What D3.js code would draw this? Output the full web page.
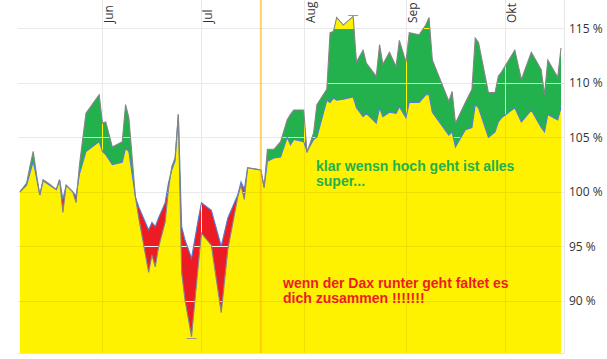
<!DOCTYPE html>
<html><head><meta charset="utf-8">
<script src="https://cdn.jsdelivr.net/npm/d3@7"></script>
<style>html,body{margin:0;padding:0;background:#fff;} svg{display:block}</style>
</head><body>
<svg id="c" width="607" height="359"></svg>
<script>
// ---------- data ----------
const dates = ["2009-05-07","2009-05-09","2009-05-10","2009-05-11","2009-05-12","2009-05-13","2009-05-14","2009-05-16","2009-05-18","2009-05-19",
"2009-05-20","2009-05-21","2009-05-23","2009-05-24","2009-05-25","2009-05-27","2009-05-31","2009-06-01","2009-06-02","2009-06-04",
"2009-06-07","2009-06-08","2009-06-09","2009-06-11","2009-06-12","2009-06-15","2009-06-16","2009-06-17","2009-06-18","2009-06-20",
"2009-06-21","2009-06-22","2009-06-23","2009-06-24","2009-06-25","2009-06-26","2009-06-28","2009-06-30","2009-07-01","2009-07-04",
"2009-07-07","2009-07-09","2009-07-12","2009-07-13","2009-07-14","2009-07-15","2009-07-19","2009-07-20","2009-07-21","2009-07-23",
"2009-07-25","2009-07-27","2009-07-28","2009-07-29","2009-08-01","2009-08-02","2009-08-04","2009-08-05","2009-08-08","2009-08-09",
"2009-08-10","2009-08-11","2009-08-13","2009-08-16","2009-08-17","2009-08-19","2009-08-20","2009-08-23","2009-08-24","2009-08-25",
"2009-08-27","2009-08-29","2009-08-30","2009-09-01","2009-09-02","2009-09-05","2009-09-07","2009-09-08","2009-09-09","2009-09-14",
"2009-09-15","2009-09-16","2009-09-19","2009-09-21","2009-09-22","2009-09-23","2009-09-26","2009-09-28","2009-09-29","2009-09-30",
"2009-10-04","2009-10-06","2009-10-09","2009-10-12","2009-10-13","2009-10-14","2009-10-17","2009-10-18"];

const productValues = [100.0,100.8,102.3,103.7,101.6,99.7,101.1,100.7,100.2,101.1,
98.1,100.6,100.0,99.0,102.4,107.2,108.9,106.3,106.4,104.1,
104.6,108.0,106.8,99.5,97.6,92.6,94.2,93.1,94.9,97.2,
100.2,102.3,103.1,107.1,92.6,90.1,86.7,93.1,96.2,95.1,
88.9,94.7,99.5,100.6,99.3,102.2,102.0,100.4,103.9,103.9,
104.6,106.6,107.1,107.5,107.5,103.6,105.4,108.0,109.4,114.6,
114.7,116.0,115.3,116.1,111.9,113.0,111.8,110.6,113.5,111.7,
112.8,111.5,113.9,111.9,114.6,114.4,115.3,116.0,112.1,108.3,
109.2,106.3,108.2,109.4,114.1,113.7,109.1,109.1,110.6,111.0,
113.0,110.3,112.8,111.2,108.9,112.1,110.5,113.2];

const daxValues = [100.0,100.6,101.7,102.8,101.3,99.7,101.0,100.6,100.2,101.1,
99.3,100.6,100.0,99.6,101.6,103.7,104.6,103.7,103.4,102.5,
102.7,104.0,103.7,99.5,98.6,96.5,97.2,96.8,97.6,99.0,
100.8,102.0,102.8,107.1,96.8,95.6,93.9,97.4,99.0,98.3,
95.0,97.6,99.7,100.9,100.2,102.2,102.0,100.4,102.8,103.1,
103.2,105.0,104.3,104.8,104.6,103.7,104.8,105.0,108.4,108.2,
108.6,108.4,108.5,108.7,107.7,106.9,107.2,106.3,107.7,106.9,
107.3,107.2,107.8,106.8,108.2,108.2,108.9,108.9,107.3,105.2,
105.5,104.1,105.7,105.9,108.0,107.7,105.0,105.5,106.4,106.8,
107.7,106.4,107.5,105.9,105.5,107.1,106.6,107.7];

const yTicks = [90, 95, 100, 105, 110, 115];
const yTickLabels = ["90 %", "95 %", "100 %", "105 %", "110 %", "115 %"];
const monthTicks = ["2009-06-01","2009-07-01","2009-08-01","2009-09-01","2009-10-01"];
const monthLabels = ["Jun","Jul","Aug","Sep","Okt"];
const markerDate = "2009-07-19";
const dateDomain = ["2009-05-07","2009-10-18"];
const valueDomain = [85.2, 117.6];
const capLevel = 115;
const capRange = ["2009-08-07","2009-08-18"];
const noteGreen = ["klar wensn hoch geht ist alles", "super..."];
const noteRed = ["wenn der Dax runter geht faltet es", "dich zusammen !!!!!!!"];

// ---------- setup ----------
const parse = d3.timeParse("%Y-%m-%d");
const data = dates.map((d, i) => ({date: parse(d), p: productValues[i], d: daxValues[i]}));
const L = 20, R = 561, T = 0, B = 353;
const x = d3.scaleTime().domain(dateDomain.map(parse)).range([L, R]);
const y = d3.scaleLinear().domain(valueDomain).range([B, T]);

const YELLOW = "#fff200", GREEN = "#22b14c", RED = "#ed1c24";
const svg = d3.select("#c");
const defs = svg.append("defs");

function clip(id, gen) {
  defs.append("clipPath").attr("id", id).append("path").attr("d", gen(data));
}
clip("belowDax", d3.area().x(e => x(e.date)).y0(B + 5).y1(e => y(e.d)));
clip("aboveDax", d3.area().x(e => x(e.date)).y0(T - 5).y1(e => y(e.d)));
clip("belowProd", d3.area().x(e => x(e.date)).y0(B + 5).y1(e => y(e.p)));
clip("aboveProd", d3.area().x(e => x(e.date)).y0(T - 5).y1(e => y(e.p)));

const areaBelowProd = d3.area().x(e => x(e.date)).y0(B).y1(e => y(e.p));
const areaAboveProd = d3.area().x(e => x(e.date)).y0(T).y1(e => y(e.p));

function drawGrid(g, color) {
  g.selectAll(".h").data(yTicks).join("line")
    .attr("x1", 18).attr("x2", 564)
    .attr("y1", v => Math.round(y(v)) + 0.5).attr("y2", v => Math.round(y(v)) + 0.5)
    .attr("stroke", color).attr("stroke-width", 1);
  g.selectAll(".v").data(monthTicks).join("line")
    .attr("x1", m => Math.round(x(parse(m))) + 0.5).attr("x2", m => Math.round(x(parse(m))) + 0.5)
    .attr("y1", T).attr("y2", B)
    .attr("stroke", color).attr("stroke-width", 1);
}

// base grid on white
drawGrid(svg.append("g"), "#e9e9e9");

// yellow: below both lines
svg.append("g").attr("clip-path", "url(#belowDax)")
  .append("path").attr("d", areaBelowProd(data)).attr("fill", YELLOW);
// green: product above dax
svg.append("g").attr("clip-path", "url(#aboveDax)")
  .append("path").attr("d", areaBelowProd(data)).attr("fill", GREEN);
// yellow cap above 115 inside green (August peak only)
svg.append("g").attr("clip-path", "url(#aboveDax)")
  .append("g").attr("clip-path", "url(#belowProd)")
  .append("rect").attr("x", x(parse(capRange[0])))
  .attr("width", x(parse(capRange[1])) - x(parse(capRange[0])))
  .attr("y", T - 5)
  .attr("height", y(capLevel) - T + 5).attr("fill", YELLOW);
// red: product below dax
svg.append("g").attr("clip-path", "url(#belowDax)")
  .append("path").attr("d", areaAboveProd(data)).attr("fill", RED);

// grid overlays in filled regions
drawGrid(svg.append("g").attr("clip-path", "url(#belowDax)").append("g").attr("clip-path", "url(#belowProd)"), "#ebe000");
drawGrid(svg.append("g").attr("clip-path", "url(#aboveDax)").append("g").attr("clip-path", "url(#belowProd)"), YELLOW);
drawGrid(svg.append("g").attr("clip-path", "url(#belowDax)").append("g").attr("clip-path", "url(#aboveProd)"), "#f6f0f0");

// frame
svg.append("line").attr("x1", 18).attr("x2", 564).attr("y1", B + 0.5).attr("y2", B + 0.5).attr("stroke", "#e6e6e6");
svg.append("line").attr("x1", 564.5).attr("x2", 564.5).attr("y1", T).attr("y2", B).attr("stroke", "#e6e6e6");

// lines
const lineGen = key => d3.line().x(e => x(e.date)).y(e => y(e[key]));
svg.append("path").attr("d", lineGen("d")(data)).attr("fill", "none")
  .attr("stroke", "#4f7fd6").attr("stroke-width", 1.1);
svg.append("path").attr("d", lineGen("p")(data)).attr("fill", "none")
  .attr("stroke", "#858585").attr("stroke-width", 1.1);

// min / max markers of the product line
const minE = data.reduce((a, b) => b.p < a.p ? b : a);
const maxE = data.reduce((a, b) => b.p > a.p ? b : a);
[[minE, 1.5], [maxE, -1.5]].forEach(([e, off]) => {
  const cx = x(e.date), cy = Math.round(y(e.p) + off) + 0.5;
  svg.append("line").attr("x1", cx - 5).attr("x2", cx + 5).attr("y1", cy).attr("y2", cy)
    .attr("stroke", "#999").attr("stroke-width", 1);
});

// marker vertical line
svg.append("line")
  .attr("x1", x(parse(markerDate))).attr("x2", x(parse(markerDate)))
  .attr("y1", T).attr("y2", B)
  .attr("stroke", "rgba(255,180,0,0.6)").attr("stroke-width", 2);

// right axis labels
svg.append("g").selectAll("text").data(yTicks).join("text")
  .attr("x", 569).attr("y", v => y(v)).attr("dy", "0.36em")
  .attr("font-family", "'Open Sans', sans-serif").attr("font-size", 12)
  .attr("fill", "#333").text((v, i) => yTickLabels[i]);

// month labels (rotated, top)
svg.append("g").selectAll("text").data(monthTicks).join("text")
  .attr("transform", m => `translate(${x(parse(m)) + 11},23) rotate(-90)`)
  .attr("font-family", "'Open Sans', sans-serif").attr("font-size", 12)
  .attr("fill", "#333").attr("text-anchor", "start").text((m, i) => monthLabels[i]);

// annotations
const noteFont = "'Liberation Sans', Arial, sans-serif";
svg.append("g").selectAll("text").data(noteGreen).join("text")
  .attr("x", 316).attr("y", (t, i) => 170.5 + i * 15)
  .attr("font-family", noteFont).attr("font-weight", "bold").attr("font-size", 14)
  .attr("fill", GREEN).text(t => t);
svg.append("g").selectAll("text").data(noteRed).join("text")
  .attr("x", 283).attr("y", (t, i) => 288 + i * 15)
  .attr("font-family", noteFont).attr("font-weight", "bold").attr("font-size", 14)
  .attr("fill", RED).text(t => t);
</script>
</body></html>
